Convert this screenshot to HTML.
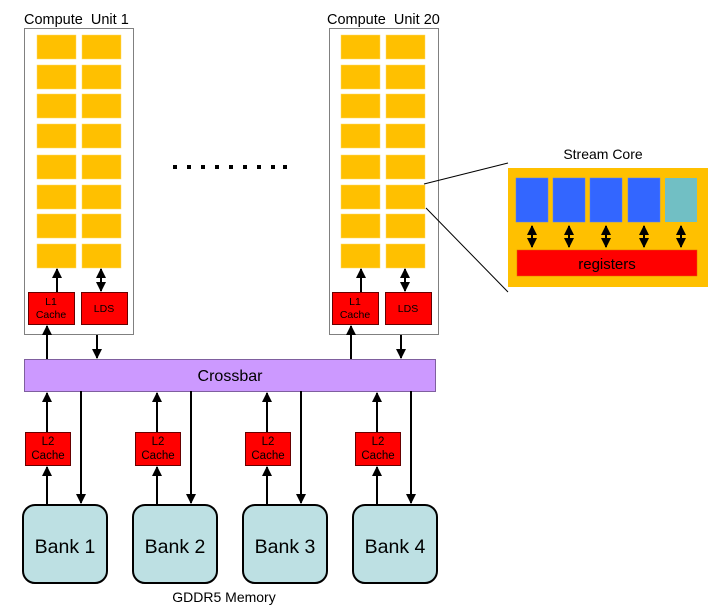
<!DOCTYPE html>
<html><head><meta charset="utf-8"><style>body{margin:0;background:#fff}svg{display:block}text{font-family:"Liberation Sans",sans-serif}</style></head><body>
<svg width="709" height="610" viewBox="0 0 709 610" xmlns="http://www.w3.org/2000/svg">
<defs>
<marker id="a" viewBox="0 0 10 10" refX="9" refY="5" markerWidth="5" markerHeight="5" orient="auto-start-reverse"><path d="M0,0L10,5L0,10z" fill="#000"/></marker>
<g id="cells" fill="#ffc000" stroke="#ffd966" stroke-width="0.5">
<rect x="0" y="0" width="39" height="24"/><rect x="45" y="0" width="39" height="24"/>
<rect x="0" y="30" width="39" height="24"/><rect x="45" y="30" width="39" height="24"/>
<rect x="0" y="59" width="39" height="24"/><rect x="45" y="59" width="39" height="24"/>
<rect x="0" y="89" width="39" height="24"/><rect x="45" y="89" width="39" height="24"/>
<rect x="0" y="120" width="39" height="24"/><rect x="45" y="120" width="39" height="24"/>
<rect x="0" y="150" width="39" height="24"/><rect x="45" y="150" width="39" height="24"/>
<rect x="0" y="179" width="39" height="24"/><rect x="45" y="179" width="39" height="24"/>
<rect x="0" y="209" width="39" height="24"/><rect x="45" y="209" width="39" height="24"/>
</g>
<g id="bank"><rect x="0" y="0" width="84" height="78" rx="12" fill="#bde0e3" stroke="#000" stroke-width="2"/></g>
</defs>
<!-- CU1 -->
<text x="24" y="24" font-size="14.5">Compute&#160; Unit 1</text>
<rect x="24.5" y="28.5" width="109" height="306" fill="#fff" stroke="#808080"/>
<use href="#cells" x="37" y="35"/>
<rect x="28.5" y="292.5" width="46" height="32" fill="#f00" stroke="#600"/>
<text x="51" y="305" font-size="10.5" text-anchor="middle">L1</text><text x="51" y="318" font-size="10.5" text-anchor="middle">Cache</text>
<rect x="81.5" y="292.5" width="46" height="32" fill="#f00" stroke="#600"/>
<text x="104" y="312" font-size="10.5" text-anchor="middle">LDS</text>
<line x1="57" y1="292" x2="57" y2="269" stroke="#000" stroke-width="2" marker-end="url(#a)"/>
<line x1="101" y1="291" x2="101" y2="269" stroke="#000" stroke-width="2" marker-end="url(#a)" marker-start="url(#a)"/>
<line x1="47" y1="359" x2="47" y2="326" stroke="#000" stroke-width="2" marker-end="url(#a)"/>
<line x1="97" y1="335" x2="97" y2="358" stroke="#000" stroke-width="2" marker-end="url(#a)"/>
<!-- CU20 -->
<text x="327" y="24" font-size="14.5">Compute&#160; Unit 20</text>
<rect x="329.5" y="28.5" width="109" height="306" fill="#fff" stroke="#808080"/>
<use href="#cells" x="341" y="35"/>
<rect x="332.5" y="292.5" width="46" height="32" fill="#f00" stroke="#600"/>
<text x="355" y="305" font-size="10.5" text-anchor="middle">L1</text><text x="355" y="318" font-size="10.5" text-anchor="middle">Cache</text>
<rect x="385.5" y="292.5" width="46" height="32" fill="#f00" stroke="#600"/>
<text x="408" y="312" font-size="10.5" text-anchor="middle">LDS</text>
<line x1="361" y1="292" x2="361" y2="269" stroke="#000" stroke-width="2" marker-end="url(#a)"/>
<line x1="405" y1="291" x2="405" y2="269" stroke="#000" stroke-width="2" marker-end="url(#a)" marker-start="url(#a)"/>
<line x1="351" y1="359" x2="351" y2="326" stroke="#000" stroke-width="2" marker-end="url(#a)"/>
<line x1="401" y1="335" x2="401" y2="358" stroke="#000" stroke-width="2" marker-end="url(#a)"/>
<!-- dots -->
<g fill="#000"><rect x="173" y="165" width="4" height="4"/><rect x="187" y="165" width="4" height="4"/><rect x="201" y="165" width="4" height="4"/><rect x="215" y="165" width="4" height="4"/><rect x="229" y="165" width="4" height="4"/><rect x="243" y="165" width="4" height="4"/><rect x="257" y="165" width="4" height="4"/><rect x="271" y="165" width="4" height="4"/><rect x="283" y="165" width="4" height="4"/></g>
<!-- crossbar -->
<rect x="24.5" y="359.5" width="411" height="32" fill="#cc99ff" stroke="#7f5f9f"/>
<text x="230" y="381" font-size="16" text-anchor="middle">Crossbar</text>
<!-- memory -->
<g id="m1">
<rect x="25.5" y="432.5" width="45" height="33" fill="#f00" stroke="#600"/>
<text x="48" y="445" font-size="11.5" text-anchor="middle">L2</text><text x="48" y="459" font-size="11.5" text-anchor="middle">Cache</text>
<line x1="47" y1="432" x2="47" y2="393" stroke="#000" stroke-width="2" marker-end="url(#a)"/>
<line x1="47" y1="505" x2="47" y2="467" stroke="#000" stroke-width="2" marker-end="url(#a)"/>
<line x1="81" y1="391" x2="81" y2="503" stroke="#000" stroke-width="2" marker-end="url(#a)"/>
<use href="#bank" x="23" y="505"/>
</g>
<use href="#m1" x="110"/><use href="#m1" x="220"/><use href="#m1" x="330"/>
<text x="65" y="553" font-size="19.5" text-anchor="middle">Bank 1</text>
<text x="175" y="553" font-size="19.5" text-anchor="middle">Bank 2</text>
<text x="285" y="553" font-size="19.5" text-anchor="middle">Bank 3</text>
<text x="395" y="553" font-size="19.5" text-anchor="middle">Bank 4</text>
<text x="224" y="602" font-size="14" text-anchor="middle">GDDR5 Memory</text>
<!-- stream core -->
<line x1="424" y1="184" x2="508" y2="163" stroke="#000"/>
<line x1="426" y1="208" x2="508" y2="292" stroke="#000"/>
<text x="603" y="159" font-size="14" text-anchor="middle">Stream Core</text>
<rect x="508" y="168" width="200" height="119" fill="#ffc000"/>
<g fill="#3366ff" stroke="#5580ff" stroke-width="0.5"><rect x="516" y="178" width="32" height="44"/><rect x="553" y="178" width="32" height="44"/><rect x="590" y="178" width="32" height="44"/><rect x="628" y="178" width="32" height="44"/></g>
<rect x="665" y="178" width="32" height="44" fill="#71bfc4"/>
<rect x="517" y="250" width="180" height="26" fill="#f00" stroke="#e06000" stroke-width="0.5"/>
<text x="607" y="269" font-size="15" text-anchor="middle">registers</text>
<g stroke="#000" stroke-width="2"><line x1="532" y1="226" x2="532" y2="247" marker-end="url(#a)" marker-start="url(#a)"/><line x1="569" y1="226" x2="569" y2="247" marker-end="url(#a)" marker-start="url(#a)"/><line x1="606" y1="226" x2="606" y2="247" marker-end="url(#a)" marker-start="url(#a)"/><line x1="644" y1="226" x2="644" y2="247" marker-end="url(#a)" marker-start="url(#a)"/><line x1="681" y1="226" x2="681" y2="247" marker-end="url(#a)" marker-start="url(#a)"/></g>
</svg>
</body></html>
